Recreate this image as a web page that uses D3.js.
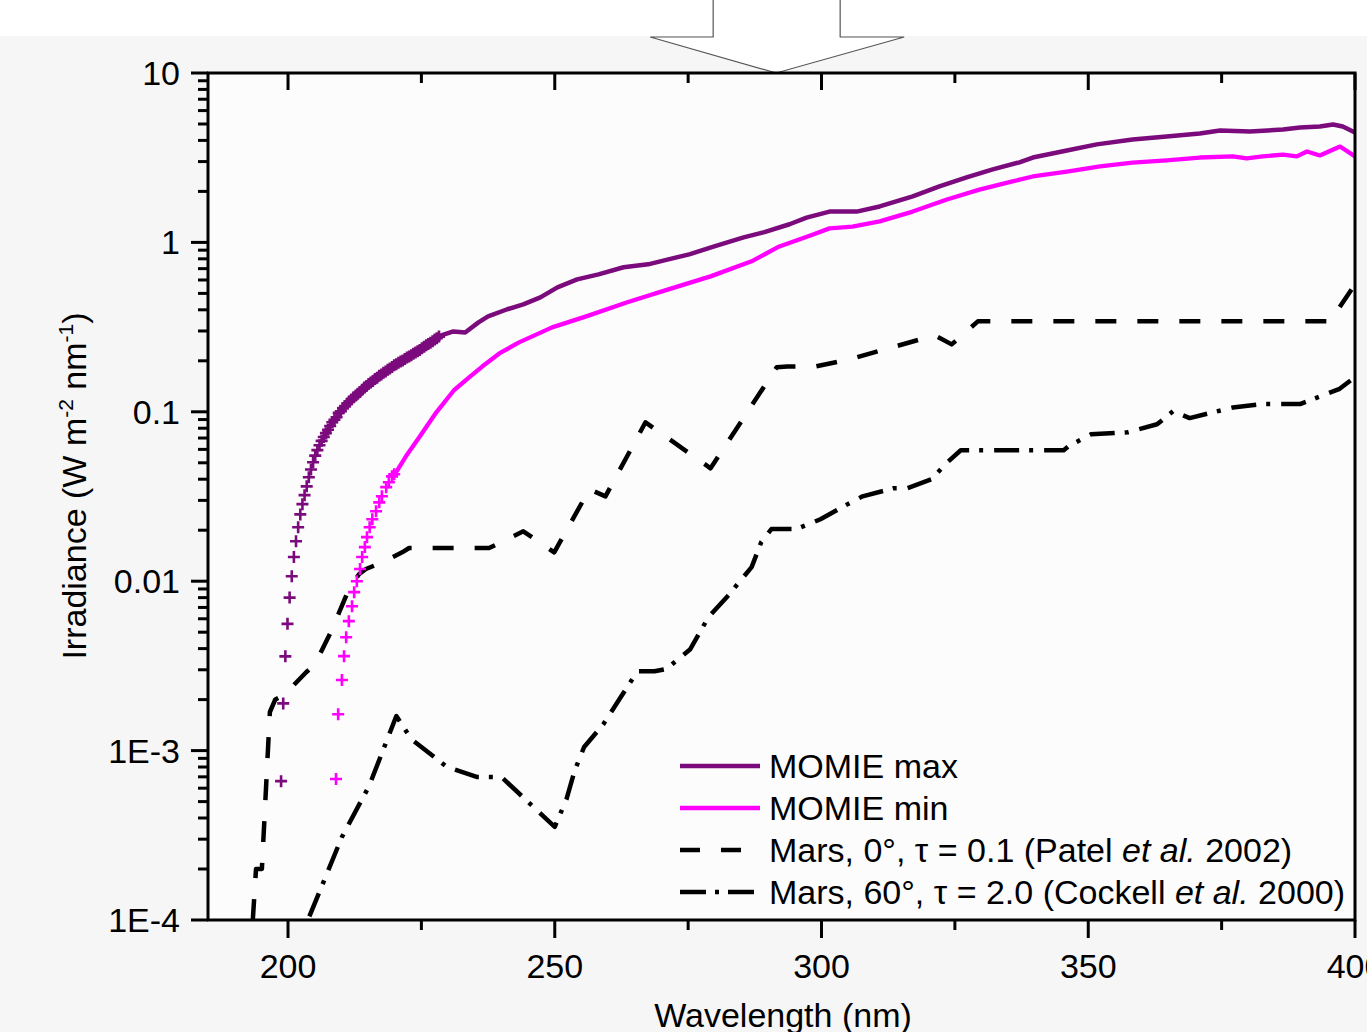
<!DOCTYPE html>
<html><head><meta charset="utf-8">
<script src="https://cdn.jsdelivr.net/npm/d3@7"></script>
<style>html,body{margin:0;padding:0;background:#fff;overflow:hidden}</style>
</head><body><svg id="c" width="1367" height="1032"></svg>
<script>
// ---------- data ----------
const xDomain = [185, 400];
const yDomain = [1e-4, 10];
const xTicks = [200, 250, 300, 350, 400];
const xMinorTicks = [225, 275, 325, 375];
const yTicks = [1e-4, 1e-3, 0.01, 0.1, 1, 10];
const yTickLabels = ["1E-4", "1E-3", "0.01", "0.1", "1", "10"];
const xLabel = "Wavelength (nm)";

// MOMIE max: symbols (short wavelengths)
const momieMaxMarkWl = [198.7,199.1,199.5,199.9,200.3,200.7,201.1,201.5,201.9,202.3,202.7,203.1,
  203.5,203.9,204.3,204.7,205.1,205.5,205.9,206.3,206.7,207.1,207.5,207.9,208.3,208.7,209.1,209.5,
  209.9,210.3,210.7,211.1,211.5,211.9,212.3,212.7,213.1,213.5,213.9,214.3,214.7,215.1,215.5,215.9,
  216.3,216.7,217.1,217.5,217.9,218.3,218.7,219.1,219.5,219.9,220.3,220.7,221.1,221.5,221.9,222.3,
  222.7,223.1,223.5,223.9,224.3,224.7,225.1,225.5,225.9,226.3,226.7,227.1,227.5,227.9,228.3];
const momieMaxMarkVal = [0.00066,0.0019,0.0036,0.0056,0.0080,0.0107,0.0139,0.0172,0.0208,0.0248,0.0285,0.0322,
  0.0363,0.0411,0.0456,0.0504,0.0551,0.0594,0.0635,0.0674,0.0710,0.0748,0.0784,0.0824,0.0867,0.0897,0.0929,0.0986,
  0.1007,0.105,0.108,0.112,0.115,0.118,0.122,0.125,0.128,0.131,0.135,0.139,0.142,0.146,0.149,0.152,
  0.156,0.159,0.163,0.166,0.170,0.173,0.177,0.180,0.184,0.188,0.191,0.195,0.198,0.201,0.205,0.209,
  0.212,0.216,0.220,0.224,0.228,0.232,0.237,0.242,0.247,0.251,0.256,0.261,0.267,0.272,0.278];
// MOMIE max: line
const momieMaxWl = [228.3,231.0,233.2,235.7,237.5,241.1,244.1,247.3,250.5,254.2,258.2,262.9,267.5,271.3,275.2,
  279.9,285.4,289.3,294.0,297.2,301.5,306.6,310.9,317.1,322.1,327.2,332.1,337.1,339.6,346.0,351.6,358.3,
  364.7,370.9,374.7,380.3,386.5,389.7,393.4,395.9,397.7,400.0];
const momieMaxVal = [0.280,0.298,0.294,0.337,0.366,0.403,0.431,0.474,0.543,0.605,0.648,0.713,0.742,0.794,0.850,
  0.947,1.07,1.15,1.28,1.40,1.52,1.52,1.63,1.87,2.14,2.42,2.70,2.97,3.17,3.49,3.79,4.05,
  4.22,4.40,4.58,4.52,4.64,4.77,4.83,4.97,4.83,4.46];

// MOMIE min: symbols
const momieMinMarkWl = [209.0,209.4,210.1,210.5,210.9,211.4,212.0,212.4,212.9,213.5,213.9,214.4,214.8,215.3,215.8,
  216.5,217.1,217.6,218.4,218.9,219.5,219.9];
const momieMinMarkVal = [0.00068,0.00164,0.00261,0.00361,0.00467,0.00581,0.00712,0.00862,0.0100,0.0118,0.0139,0.0159,
  0.0182,0.0208,0.0232,0.0259,0.0292,0.0317,0.0359,0.0384,0.0416,0.0428];
// MOMIE min: line
const momieMinWl = [219.9,222.1,224.6,227.8,231.1,234.0,236.4,239.6,243.3,249.5,255.9,263.6,271.3,279.2,286.9,
  292.1,298.3,301.5,305.8,310.9,317.1,323.5,329.6,335.8,339.6,346.0,352.2,358.3,364.7,370.9,377.1,
  379.7,382.7,386.5,389.1,391.0,393.4,397.2,400.0];
const momieMinVal = [0.0422,0.0546,0.0707,0.0993,0.134,0.160,0.185,0.221,0.257,0.315,0.366,0.443,0.528,0.630,0.773,
  0.947,1.11,1.21,1.24,1.33,1.52,1.79,2.05,2.29,2.45,2.62,2.81,2.96,3.05,3.17,3.22,
  3.13,3.22,3.30,3.22,3.44,3.26,3.68,3.22];

// Mars 0 deg, tau=0.1 (Patel et al. 2002)
const patelWl = [193.4,194.0,195.1,196.6,197.6,199.2,203.4,204.9,205.8,208.1,209.6,211.4,213.3,214.6,217.6,221.4,
  222.7,237.7,244.1,249.9,256.5,259.5,267.0,279.2,291.6,293.6,298.8,305.3,321.2,324.4,329.3,395.3,400.0];
const patelVal = [0.0001,0.0002,0.0002,0.00169,0.0020,0.00212,0.0029,0.0032,0.00361,0.00507,0.00656,0.00897,0.0110,0.0118,0.0129,0.0148,
  0.0157,0.0157,0.0197,0.0148,0.0349,0.0317,0.0867,0.0464,0.183,0.185,0.185,0.204,0.283,0.250,0.342,0.342,0.565];

// Mars 60 deg, tau=2.0 (Cockell et al. 2000)
const cockellWl = [204.0,210.1,215.2,220.3,223.1,229.8,235.5,240.0,250.0,252.2,253.7,255.5,259.1,262.5,265.5,268.7,
  270.9,275.4,278.8,282.4,286.9,288.7,290.6,295.3,299.8,303.8,307.7,313.5,316.1,320.6,323.6,326.1,345.4,
  346.3,350.5,357.4,362.9,365.9,369.0,377.1,382.7,389.7,397.0,400.0];
const cockellVal = [0.000105,0.000309,0.000618,0.0016,0.00117,0.0008,0.000698,0.000698,0.000355,0.000517,0.000757,0.00105,0.00143,0.0021,0.00294,0.00294,
  0.00303,0.00397,0.00613,0.00816,0.0121,0.0170,0.0203,0.0203,0.0232,0.0273,0.0317,0.0354,0.0354,0.040,0.0504,0.0593,0.0593,
  0.0626,0.0736,0.0757,0.0844,0.1007,0.0918,0.106,0.111,0.111,0.136,0.160];

const legendLabels = ["MOMIE max", "MOMIE min", "Mars, 0°, τ = 0.1 (Patel |et al.| 2002)", "Mars, 60°, τ = 2.0 (Cockell |et al.| 2000)"];
const arrowWavelength = 291.5;

// ---------- drawing ----------
const svg = d3.select("#c");
const W = 1367, H = 1032;
const FONT = "'Liberation Sans', Arial, sans-serif";
const PURPLE = "#7b0a7d", PINK = "#ff00ff";

const x = d3.scaleLinear().domain(xDomain).range([208, 1355]);
const y = d3.scaleLog().domain(yDomain).range([920, 73]);

svg.append("rect").attr("x", 0).attr("y", 0).attr("width", W).attr("height", H).attr("fill", "#ffffff");
svg.append("rect").attr("x", 0).attr("y", 36).attr("width", W).attr("height", H - 36).attr("fill", "#f6f6f6");
svg.append("rect").attr("x", x.range()[0]).attr("y", y.range()[1])
  .attr("width", x.range()[1] - x.range()[0]).attr("height", y.range()[0] - y.range()[1]).attr("fill", "#fcfcfc");

svg.append("defs").append("clipPath").attr("id", "clip").append("rect")
  .attr("x", x.range()[0]).attr("y", y.range()[1])
  .attr("width", x.range()[1] - x.range()[0]).attr("height", y.range()[0] - y.range()[1]);

const plot = svg.append("g").attr("clip-path", "url(#clip)");
const zip = (a, b) => a.map((d, i) => [d, b[i]]);
const line = d3.line().x(d => x(d[0])).y(d => y(d[1]));

function drawLine(wl, val, color, width, dash) {
  plot.append("path").datum(zip(wl, val)).attr("d", line)
    .attr("fill", "none").attr("stroke", color).attr("stroke-width", width)
    .attr("stroke-linejoin", "round").attr("stroke-dasharray", dash || null);
}
function drawMarks(wl, val, color) {
  plot.append("g").selectAll("path").data(zip(wl, val)).join("path")
    .attr("transform", d => `translate(${x(d[0])},${y(d[1])})`)
    .attr("d", "M-6,0H6M0,-6V6").attr("stroke", color).attr("stroke-width", 2.6).attr("fill", "none");
}

drawLine(cockellWl, cockellVal, "#000", 4.5, "25,10,4,11");
drawLine(patelWl, patelVal, "#000", 4.5, "21,21");
drawLine(momieMinWl, momieMinVal, PINK, 4.3);
drawMarks(momieMinMarkWl, momieMinMarkVal, PINK);
drawLine(momieMaxWl, momieMaxVal, PURPLE, 4.5);
drawMarks(momieMaxMarkWl, momieMaxMarkVal, PURPLE);

// arrow (decoration at top)
const ax = x(arrowWavelength), ay = y.range()[1];
svg.append("path")
  .attr("d", `M${ax - 63},-2 L${ax + 64},-2 L${ax + 64},37 L${ax + 128},37 L${ax},${ay} L${ax - 126},37 L${ax - 63},37 Z`)
  .attr("fill", "#ffffff").attr("stroke", "#555").attr("stroke-width", 1.2);

// axes
const axisG = svg.append("g").attr("stroke", "#000").attr("stroke-width", 3).attr("fill", "none");
const [x0, x1] = x.range(), [yb, yt] = y.range();
axisG.append("path").attr("d", `M${x0 - 1},${yb}H${x1 + 1.5}M${x0},${yb}V${yt}M${x0 - 1},${yt}H${x1 + 1.5}M${x1},${yt - 1}V${yb + 1}`).attr("stroke-width", 3);

// x ticks: bottom outward, top inward
xTicks.forEach(t => {
  axisG.append("line").attr("x1", x(t)).attr("x2", x(t)).attr("y1", yb).attr("y2", yb + 18);
  axisG.append("line").attr("x1", x(t)).attr("x2", x(t)).attr("y1", yt).attr("y2", yt + 17);
});
xMinorTicks.forEach(t => {
  axisG.append("line").attr("x1", x(t)).attr("x2", x(t)).attr("y1", yb).attr("y2", yb + 10);
  axisG.append("line").attr("x1", x(t)).attr("x2", x(t)).attr("y1", yt).attr("y2", yt + 10);
});
// y ticks: left outward
const yMinor = [];
yTicks.slice(0, -1).forEach(t => { for (let k = 2; k <= 9; k++) yMinor.push(t * k); });
yTicks.forEach(t => axisG.append("line").attr("x1", x0 - 17).attr("x2", x0).attr("y1", y(t)).attr("y2", y(t)));
yMinor.forEach(t => axisG.append("line").attr("x1", x0 - 10).attr("x2", x0).attr("y1", y(t)).attr("y2", y(t)));

// tick labels
const txt = svg.append("g").attr("font-family", FONT).attr("font-size", 34).attr("fill", "#000");
xTicks.forEach(t => txt.append("text").attr("x", x(t)).attr("y", 978).attr("text-anchor", "middle").text(t));
yTicks.forEach((t, i) => txt.append("text").attr("x", 180).attr("y", y(t) + 12).attr("text-anchor", "end").text(yTickLabels[i]));

// axis titles
txt.append("text").attr("x", 783).attr("y", 1027).attr("text-anchor", "middle").text(xLabel);
const yl = txt.append("text").attr("transform", "translate(86,486) rotate(-90)").attr("text-anchor", "middle");
yl.append("tspan").text("Irradiance (W m");
yl.append("tspan").attr("font-size", 21).attr("dy", -13).text("-2");
yl.append("tspan").attr("dy", 13).text(" nm");
yl.append("tspan").attr("font-size", 21).attr("dy", -13).text("-1");
yl.append("tspan").attr("dy", 13).text(")");

// legend
const legStyles = [
  {c: PURPLE, w: 4.5, d: null},
  {c: PINK, w: 4.5, d: null},
  {c: "#000", w: 4.5, d: "20,21"},
  {c: "#000", w: 4.5, d: "26,9,4,9"}
];
const legY = [766, 808, 850, 892];
legendLabels.forEach((lab, i) => {
  const s = legStyles[i];
  svg.append("line").attr("x1", 680).attr("x2", 760).attr("y1", legY[i]).attr("y2", legY[i])
    .attr("stroke", s.c).attr("stroke-width", s.w).attr("stroke-dasharray", s.d);
  const t = txt.append("text").attr("x", 769).attr("y", legY[i] + 12);
  lab.split("|").forEach((part, j) => {
    const sp = t.append("tspan").text(part);
    if (j % 2 === 1) sp.attr("font-style", "italic");
  });
});
</script>
</body></html>
